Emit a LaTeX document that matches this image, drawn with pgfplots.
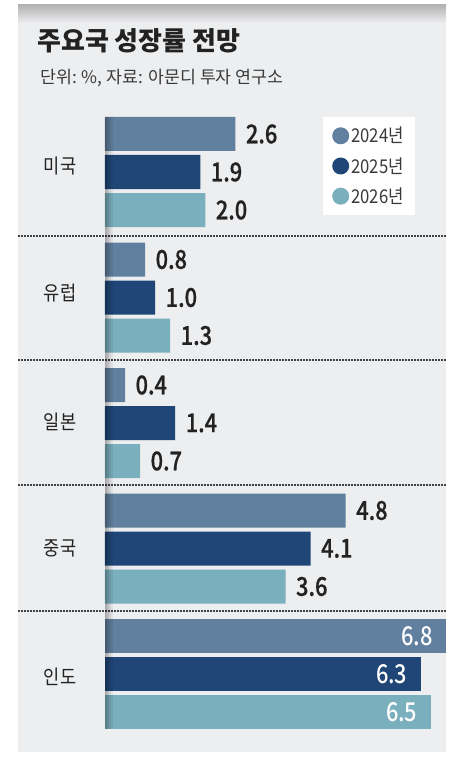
\documentclass[border=0pt]{standalone}
\usepackage{pgfplots}
\pgfplotsset{compat=1.18}
\usepackage{fontspec}
\setmainfont{Noto Sans CJK KR}
\newfontfamily\numfont{Noto Sans CJK KR Medium}[FakeStretch=0.84, FakeBold=0.6]
\newfontfamily\numfontin{Noto Sans CJK KR Medium}[FakeStretch=0.84]
\newfontfamily\narfont{Noto Sans CJK KR}[FakeStretch=0.88]
\definecolor{cA}{HTML}{617F9E}
\definecolor{cB}{HTML}{1F4677}
\definecolor{cC}{HTML}{7AAFBD}
\definecolor{panel}{HTML}{EDEEF0}
\definecolor{txt}{HTML}{222222}
\definecolor{sub}{HTML}{3A3A3A}
\begin{document}
\begin{tikzpicture}
\fill[white] (0pt,0pt) rectangle (458pt,762pt);
\fill[panel] (18pt,10pt) rectangle (446pt,757pt);
\shade[top color=black!30, bottom color=panel] (18pt,739pt) rectangle (446pt,757pt);
\node[anchor=base west, text=txt, inner sep=0pt] at (37pt,711pt) {\fontsize{26}{26}\selectfont\bfseries 주요국 성장률 전망};
\node[anchor=base west, text=sub, inner sep=0pt] at (40pt,678pt) {\fontsize{17.3}{17}\selectfont 단위: \%, 자료: 아문디 투자 연구소};
\foreach \yy in {526,402,277,151}{
  \draw[color=black!75, line width=1.6pt, dash pattern=on 1.6pt off 1.4pt] (18pt,\yy pt) -- (446pt,\yy pt);
}
\begin{axis}[
  at={(0pt,0pt)}, anchor=south west,
  width=458pt, height=762pt, scale only axis,
  xmin=-2.0937, xmax=7.0389, ymin=0, ymax=762, y dir=reverse,
  enlargelimits=false, clip=false,
  axis line style={draw=none}, xtick=\empty,
  ytick={166,293,422,548,677},
  yticklabels={미국,유럽,일본,중국,인도},
  major tick length=0pt,
  yticklabel style={anchor=center, xshift=60pt, font=\narfont\fontsize{20}{20}\selectfont, text=txt},
  xbar, bar shift=0pt, bar width=34,
  point meta=x,
  nodes near coords={\pgfmathprintnumber[fixed,fixed zerofill,precision=1,assume math mode=true]{\pgfplotspointmeta}},
  every node near coord/.append style={font=\numfont\fontsize{26}{26}\selectfont, text=txt, anchor=west, xshift=7pt},
  legend style={at={(axis cs:4.347,117)}, anchor=north west, draw=none, fill=white,
    inner xsep=9pt, inner ysep=8pt, row sep=9pt,
    font=\narfont\fontsize{19}{19}\selectfont, text=sub},
  legend cell align=left,
  legend image code/.code={\fill[#1,draw=none] (0pt,0pt) circle (8.5pt);},
]
\addplot[fill=cA, draw=none] coordinates {(2.6,134) (0.8,259.5) (0.4,385) (4.8,510.5)};
\addplot[fill=cB, draw=none] coordinates {(1.9,172) (1.0,297.5) (1.4,423) (4.1,548.5)};
\addplot[fill=cC, draw=none] coordinates {(2.0,210) (1.3,335.5) (0.7,461) (3.6,586.5)};
\legend{2024년,2025년,2026년}
\addplot[fill=cA, draw=none, forget plot, every node near coord/.append style={anchor=east, xshift=-17pt, text=white, font=\numfontin\fontsize{26}{26}\selectfont}] coordinates {(6.8,636)};
\addplot[fill=cB, draw=none, forget plot, every node near coord/.append style={anchor=east, xshift=-17pt, text=white, font=\numfontin\fontsize{26}{26}\selectfont}] coordinates {(6.3,674)};
\addplot[fill=cC, draw=none, forget plot, every node near coord/.append style={anchor=east, xshift=-17pt, text=white, font=\numfontin\fontsize{26}{26}\selectfont}] coordinates {(6.5,712)};
\end{axis}
\fill[black,opacity=.28] (105pt,33pt) rectangle (107pt,645pt);
\fill[black,opacity=.20] (107pt,33pt) rectangle (109pt,645pt);
\fill[black,opacity=.12] (109pt,33pt) rectangle (111pt,645pt);
\fill[black,opacity=.06] (111pt,33pt) rectangle (113pt,645pt);
\pgfresetboundingbox
\path (0pt,0pt) rectangle (458pt,762pt);
\end{tikzpicture}
\end{document}
